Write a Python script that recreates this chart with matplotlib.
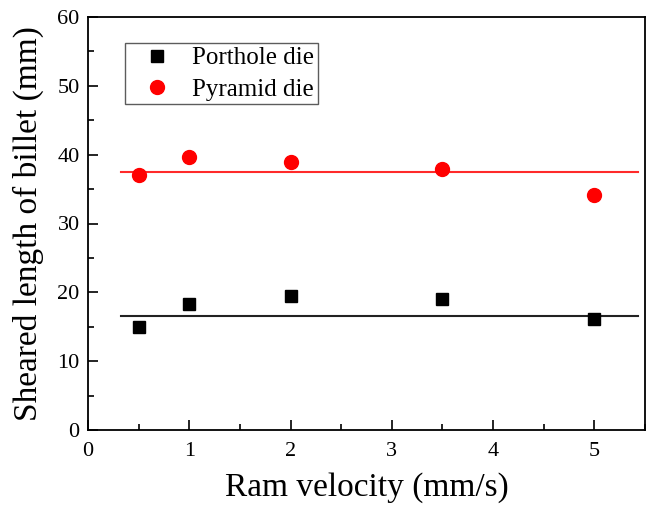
import numpy as np
import matplotlib.pyplot as plt
from matplotlib.ticker import MultipleLocator

plt.rcParams['font.family'] = ['Liberation Serif', 'DejaVu Serif']

# ---------------------------------------------------------------------------
# Data
velocity = [0.5, 1, 2, 3.5, 5]
porthole = [15.0, 18.3, 19.4, 19.0, 16.1]
pyramid = [37.0, 39.7, 39.0, 37.9, 34.1]
porthole_mean = 16.5
pyramid_mean = 37.5
line_x = [0.33, 5.43]

# ---------------------------------------------------------------------------
fig = plt.figure(figsize=(6.47, 5.09), dpi=100)
ax = fig.add_axes([88/647, 1 - 430/509, (645-88)/647, (430-17)/509])

ax.plot(line_x, [porthole_mean]*2, color='#222222', lw=1.5)
ax.plot(line_x, [pyramid_mean]*2, color='#ff2a2a', lw=1.5)
ax.plot(velocity, porthole, ls='none', marker='s', ms=9, color='black',
        label='Porthole die')
ax.plot(velocity, pyramid, ls='none', marker='o', ms=10, color='red',
        mec='red', label='Pyramid die')

ax.set_xlim(0, 5.5)
ax.set_ylim(0, 60)
ax.xaxis.set_major_locator(MultipleLocator(1))
ax.xaxis.set_minor_locator(MultipleLocator(0.5))
ax.yaxis.set_major_locator(MultipleLocator(10))
ax.yaxis.set_minor_locator(MultipleLocator(5))
ax.tick_params(which='both', direction='in', top=False, right=False,
               labelsize=16, width=1.2)
ax.tick_params(axis='x', pad=9)
ax.tick_params(axis='y', pad=6)
ax.tick_params(which='major', length=7)
ax.tick_params(which='minor', length=4)
for s in ax.spines.values():
    s.set_linewidth(1.3)

ax.set_xlabel('Ram velocity (mm/s)', fontsize=24, labelpad=8)
ax.set_ylabel('Sheared length of billet (mm)', fontsize=24, labelpad=10)

leg = ax.legend(loc='upper left', bbox_to_anchor=(0.066, 0.937), fontsize=18,
                frameon=True, fancybox=False, edgecolor='#333333',
                handlelength=2.3, handletextpad=0.25, borderpad=0.15,
                labelspacing=0.35, borderaxespad=0)
leg.get_frame().set_linewidth(1.0)

fig.savefig('out.png', dpi=100)
